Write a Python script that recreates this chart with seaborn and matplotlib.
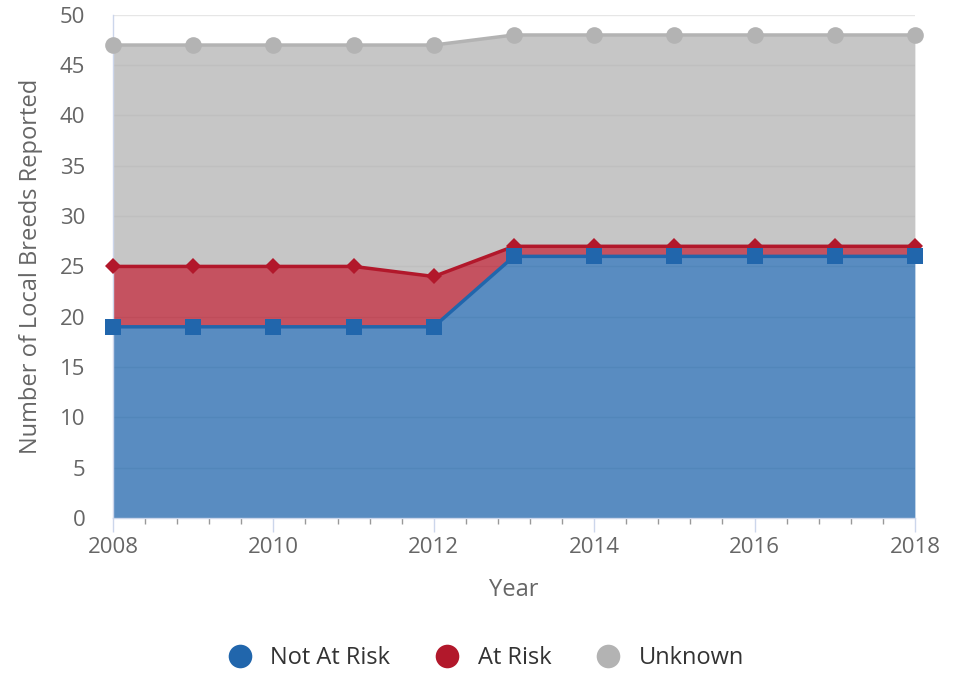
import numpy as np
import pandas as pd
import seaborn as sns
import matplotlib.pyplot as plt
from matplotlib.ticker import MultipleLocator
from matplotlib.lines import Line2D

# data (stacked area)
years = [2008, 2009, 2010, 2011, 2012, 2013, 2014, 2015, 2016, 2017, 2018]
not_at_risk = [19, 19, 19, 19, 19, 26, 26, 26, 26, 26, 26]
at_risk = [6, 6, 6, 6, 5, 1, 1, 1, 1, 1, 1]
unknown = [22, 22, 22, 22, 23, 21, 21, 21, 21, 21, 21]

series_names = ['Not At Risk', 'At Risk', 'Unknown']
series_colors = ['#2166ac', '#b2182b', '#b3b3b3']
series_markers = ['s', 'D', 'o']
marker_sizes = [12, 8.5, 12]

sns.set_style('white')
plt.rcParams['font.family'] = ['Open Sans', 'DejaVu Sans']

fig = plt.figure(figsize=(9.6, 6.75), dpi=100)
ax = fig.add_axes([0.1177, 0.2326, 0.8353, 0.7454])

stack = np.cumsum(np.array([not_at_risk, at_risk, unknown]), axis=0)
base = np.zeros(len(years))

# gridlines under the fills
ax.set_axisbelow(True)
ax.yaxis.grid(True, color='#e6e6e6', linewidth=1)

for i, name in enumerate(series_names):
    top = stack[i]
    ax.fill_between(years, base, top, color=series_colors[i], alpha=0.75, linewidth=0, zorder=1)
    base = top

# lines drawn from the top down so lower lines sit over upper fills
for i in [2, 1, 0]:
    df = pd.DataFrame({'Year': years, 'Value': stack[i]})
    sns.lineplot(data=df, x='Year', y='Value', ax=ax, color=series_colors[i],
                 linewidth=2.5, marker=series_markers[i], markersize=marker_sizes[i],
                 markeredgewidth=0, clip_on=False, zorder=3 + (2 - i))

ax.set_xlim(2008, 2018)
ax.set_ylim(0, 50)
ax.xaxis.set_major_locator(MultipleLocator(2))
ax.xaxis.set_minor_locator(MultipleLocator(0.4))
ax.yaxis.set_major_locator(MultipleLocator(5))

for s in ['top', 'right']:
    ax.spines[s].set_visible(False)
ax.spines['left'].set_color('#ccd6eb')
ax.spines['bottom'].set_color('#ccd6eb')
ax.spines['left'].set_linewidth(1)
ax.spines['bottom'].set_linewidth(1)

ax.tick_params(axis='x', which='major', length=10, color='#ccd6eb', width=1,
               labelsize=16, labelcolor='#666666', pad=4, bottom=True)
ax.tick_params(axis='x', which='minor', length=4, color='#999999', width=1, bottom=True)
ax.tick_params(axis='y', which='major', length=0, labelsize=16, labelcolor='#666666', pad=20)

ax.set_xlabel('Year', fontsize=17, color='#666666', labelpad=14)
ax.set_ylabel('Number of Local Breeds Reported', fontsize=17, color='#666666', labelpad=12)

handles = [Line2D([0], [0], marker='o', linestyle='none', markersize=17,
                  markerfacecolor=c, markeredgewidth=0) for c in series_colors]
fig.legend(handles, series_names, loc='center', bbox_to_anchor=(0.5, 0.025),
           ncol=3, frameon=False, fontsize=17, labelcolor='#333333',
           handletextpad=0.3, columnspacing=1.4)

fig.savefig('out.png', dpi=100)
